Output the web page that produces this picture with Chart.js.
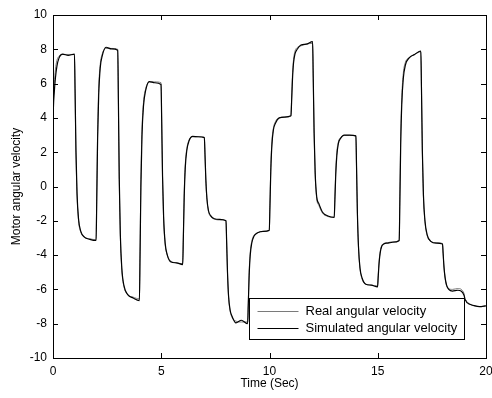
<!DOCTYPE html>
<html>
<head>
<meta charset="utf-8">
<script src="https://cdn.jsdelivr.net/npm/chart.js@4"></script>
<style>
  html, body { margin: 0; padding: 0; background: #fff; }
  #wrap { width: 492px; height: 398px; }
</style>
</head>
<body>
<div id="wrap"><canvas id="myChart" width="492" height="398"></canvas></div>
<script>
// step start of each 1 s input segment and where inside it the trace was read
const stepStarts = [0, 1, 2, 3, 4, 5, 6, 7, 8, 9, 10, 11, 12, 13, 14, 15, 16, 17, 18, 19];
const readOffsets = [0.02, 0.06, 0.11, 0.18, 0.28, 0.45, 0.7, 0.99];

// values, one row per segment
const realVel = [3.0,
  5.0, 6.0, 6.8, 7.35, 7.6, 7.7, 7.7, 7.7,
  5.4, 2.0, -0.5, -2.0, -2.65, -2.95, -3.05, -3.1,
  -0.5, 3.2, 5.7, 7.1, 7.75, 8.05, 8.05, 8.0,
  5.0, 0.4, -2.9, -4.9, -5.85, -6.3, -6.45, -6.55,
  -3.8, 0.4, 3.3, 4.9, 5.7, 6.1, 6.1, 6.05,
  3.8, 0.5, -1.9, -3.35, -4.0, -4.35, -4.45, -4.5,
  -2.9, -0.4, 1.3, 2.2, 2.7, 2.9, 2.9, 2.88,
  1.85, 0.35, -0.75, -1.45, -1.75, -1.9, -1.95, -1.98,
  -3.2, -5.05, -6.45, -7.25, -7.65, -7.85, -7.9, -7.9,
  -6.8, -5.0, -3.85, -3.2, -2.85, -2.7, -2.62, -2.58,
  -1.0, 1.1, 2.6, 3.4, 3.8, 4.0, 4.05, 4.1,
  5.1, 6.5, 7.4, 7.9, 8.1, 8.2, 8.3, 8.35,
  6.3, 3.1, 0.7, -0.7, -1.1, -1.55, -1.75, -1.8,
  -0.6, 0.9, 2.0, 2.6, 2.85, 2.98, 2.98, 2.95,
  1.1, -1.6, -3.55, -4.8, -5.4, -5.7, -5.75, -5.8,
  -5.2, -4.4, -3.8, -3.45, -3.33, -3.28, -3.22, -3.18,
  -0.6, 2.9, 5.2, 6.6, 7.25, 7.5, 7.7, 7.85,
  5.6, 2.0, -0.6, -2.05, -2.85, -3.2, -3.28, -3.32,
  -3.9, -4.7, -5.35, -5.8, -5.95, -6.0, -5.95, -6.25,
  -6.5, -6.6, -6.7, -6.8, -6.87, -6.95, -7.0, -7.0
];

const simVel = [3.3,
  4.6, 5.5, 6.3, 7.0, 7.5, 7.72, 7.65, 7.72,
  5.6, 2.1, -0.4, -1.9, -2.6, -2.95, -3.08, -3.15,
  -0.9, 2.7, 5.3, 6.9, 7.65, 8.12, 8.02, 7.95,
  5.1, 0.5, -2.8, -4.8, -5.8, -6.3, -6.5, -6.65,
  -4.1, 0.0, 2.95, 4.7, 5.6, 6.12, 6.05, 5.95,
  3.9, 0.6, -1.8, -3.3, -4.0, -4.4, -4.45, -4.55,
  -3.05, -0.65, 1.1, 2.1, 2.65, 2.92, 2.9, 2.85,
  1.9, 0.4, -0.7, -1.4, -1.7, -1.88, -1.92, -2.0,
  -3.2, -5.0, -6.4, -7.2, -7.6, -7.95, -7.8, -8.0,
  -6.9, -5.2, -4.0, -3.3, -2.9, -2.7, -2.62, -2.55,
  -1.2, 0.9, 2.4, 3.3, 3.7, 4.0, 4.05, 4.12,
  4.9, 6.2, 7.2, 7.75, 8.0, 8.25, 8.3, 8.45,
  6.4, 3.2, 0.8, -0.6, -1.0, -1.5, -1.72, -1.8,
  -0.8, 0.7, 1.8, 2.5, 2.8, 3.0, 3.0, 2.95,
  1.2, -1.55, -3.5, -4.75, -5.35, -5.7, -5.75, -5.85,
  -5.3, -4.5, -3.9, -3.5, -3.35, -3.3, -3.25, -3.15,
  -1.0, 2.4, 4.8, 6.3, 7.1, 7.5, 7.7, 7.9,
  5.7, 2.1, -0.5, -2.0, -2.8, -3.2, -3.3, -3.35,
  -3.9, -4.7, -5.3, -5.75, -6.0, -6.1, -6.05, -6.35,
  -6.55, -6.65, -6.75, -6.82, -6.88, -6.95, -7.0, -6.95
];

const seriesNames = ["Real angular velocity", "Simulated angular velocity"];
const xTicks = [0, 5, 10, 15, 20];
const yTicks = [-10, -8, -6, -4, -2, 0, 2, 4, 6, 8, 10];

// time axis: t = 0 then every read point of every segment
let time = [0];
for (let i = 0; i < stepStarts.length; i++) {
	for (let j = 0; j < readOffsets.length; j++) {
		time.push(stepStarts[i] + readOffsets[j]);
	}
}

function toPoints(vals) {
	return time.map(function(t, i) { return { x: t, y: vals[i] }; });
}

const FONT = { family: "'Liberation Sans', Arial, sans-serif", size: 12 };

// matlab style frame with ticks pointing inward, and the boxed legend
const framePlugin = {
	id: "frame",
	afterDatasetsDraw(chart) {
		const ctx = chart.ctx;
		const a = chart.chartArea;
		const xs = chart.scales.x;
		const ys = chart.scales.y;
		ctx.save();
		ctx.strokeStyle = "#000";
		ctx.lineWidth = 1;
		ctx.beginPath();
		xTicks.forEach(function(v) {
			const px = Math.round(xs.getPixelForValue(v)) + 0.5;
			ctx.moveTo(px, a.bottom); ctx.lineTo(px, a.bottom - 5);
			ctx.moveTo(px, a.top); ctx.lineTo(px, a.top + 5);
		});
		yTicks.forEach(function(v) {
			const py = Math.round(ys.getPixelForValue(v)) + 0.5;
			ctx.moveTo(a.left, py); ctx.lineTo(a.left + 5, py);
			ctx.moveTo(a.right, py); ctx.lineTo(a.right - 5, py);
		});
		ctx.stroke();
		ctx.strokeRect(Math.round(a.left) + 0.5, Math.round(a.top) + 0.5,
			Math.round(a.right - a.left), Math.round(a.bottom - a.top));

		// legend box
		const bw = 215, bh = 41;
		const bx = Math.round(a.right) - 22 - bw + 0.5;
		const by = Math.round(a.bottom) - 19 - bh + 0.5;
		ctx.fillStyle = "#fff";
		ctx.fillRect(bx, by, bw, bh);
		ctx.strokeRect(bx, by, bw, bh);
		ctx.font = "13px " + FONT.family;
		ctx.textBaseline = "middle";
		ctx.textAlign = "left";
		chart.data.datasets.forEach(function(ds, i) {
			const ly = Math.round(by + 12 + i * 17) + 0.5;
			ctx.strokeStyle = ds.borderColor;
			ctx.beginPath();
			ctx.moveTo(bx + 8, ly);
			ctx.lineTo(bx + 49, ly);
			ctx.stroke();
			ctx.fillStyle = "#000";
			ctx.fillText(ds.label, bx + 56, ly);
		});
		ctx.restore();
	}
};

const ctx = document.getElementById("myChart");

new Chart(ctx, {
	type: "line",
	data: {
		datasets: [{
			label: seriesNames[0],
			data: toPoints(realVel),
			borderColor: "#7a7a7a",
			borderWidth: 1,
			pointRadius: 0,
			cubicInterpolationMode: "monotone",
			order: 2
		}, {
			label: seriesNames[1],
			data: toPoints(simVel),
			borderColor: "#000000",
			borderWidth: 1.2,
			pointRadius: 0,
			cubicInterpolationMode: "monotone",
			order: 1
		}]
	},
	options: {
		responsive: false,
		animation: false,
		events: [],
		layout: { padding: { left: 0, right: 6, top: 15, bottom: 0 } },
		plugins: { legend: { display: false }, tooltip: { enabled: false } },
		scales: {
			x: {
				type: "linear",
				min: 0,
				max: 20,
				afterFit: function(s) { s.height = 40; s.paddingLeft = 0; s.paddingRight = 0; },
				afterBuildTicks: function(s) { s.ticks = xTicks.map(function(v) { return { value: v }; }); },
				grid: { display: false, drawTicks: false },
				border: { display: false },
				ticks: { color: "#000", font: FONT, padding: 6, maxRotation: 0 },
				title: { display: true, text: "Time (Sec)", color: "#000", font: FONT, padding: { top: 0, bottom: 7 } }
			},
			y: {
				type: "linear",
				min: -10,
				max: 10,
				afterFit: function(s) { s.width = 53; s.paddingTop = 0; s.paddingBottom = 0; },
				afterBuildTicks: function(s) { s.ticks = yTicks.map(function(v) { return { value: v }; }); },
				grid: { display: false, drawTicks: false },
				border: { display: false },
				ticks: { color: "#000", font: FONT, padding: 6 },
				title: { display: true, text: "Motor angular velocity", color: "#000", font: FONT, padding: { top: 9, bottom: 0 } }
			}
		}
	},
	plugins: [framePlugin]
});
</script>
</body>
</html>
